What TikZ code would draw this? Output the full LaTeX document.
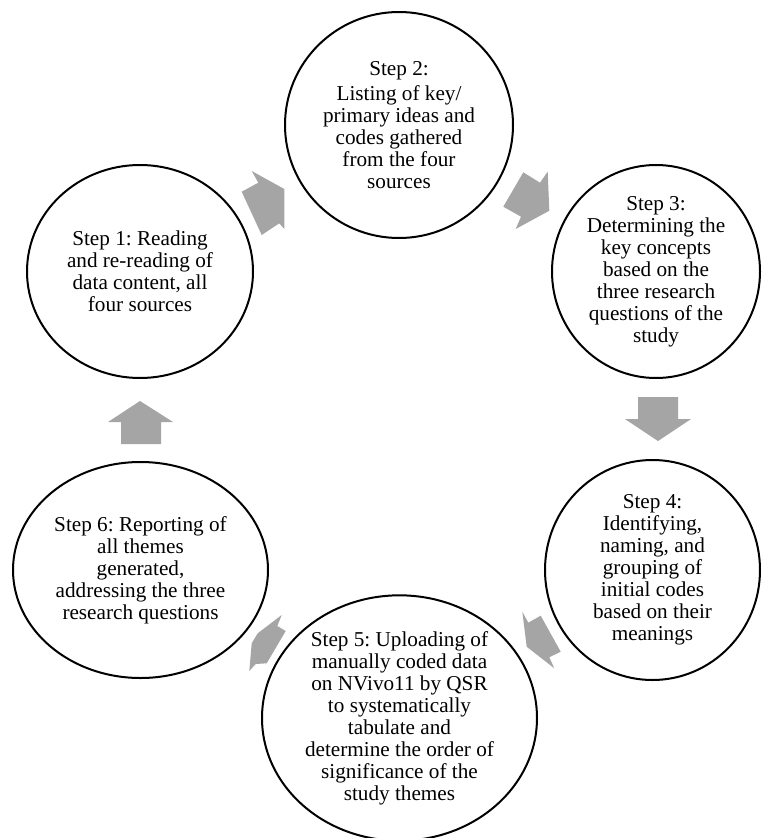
\documentclass[tikz,border=0pt]{standalone}
\usepackage{fontspec}
\setmainfont{Liberation Serif}
\usetikzlibrary{shapes.geometric}
\definecolor{arrowgray}{HTML}{A5A5A5}
\tikzset{
  stepcircle/.style={ellipse, draw=black, line width=2pt, inner sep=0pt, align=center,
    font=\fontsize{21.2}{22}\selectfont\frenchspacing},
  blockarrow/.style={fill=arrowgray, draw=none}
}
\begin{document}
\begin{tikzpicture}[x=1pt,y=-1pt]
\useasboundingbox (0,0) rectangle (761,838);
\fill[white] (0,0) rectangle (761,838);

\node[stepcircle, minimum width=226pt, minimum height=213pt] (s1) at (140,271.5)
  {Step 1: Reading\\and re-reading of\\data content, all\\four sources};
\node[stepcircle, minimum width=228pt, minimum height=226pt] (s2) at (399,125)
  {Step 2:\\[3pt]Listing of key/\\primary ideas and\\codes gathered\\from the four\\sources};
\node[stepcircle, minimum width=208pt, minimum height=213pt] (s3) at (656,271.5)
  {Step 3:\\Determining the\\key concepts\\based on the\\three research\\questions of the\\study};
\node[stepcircle, minimum width=215pt, minimum height=220pt] (s4) at (652.5,570)
  {Step 4:\\Identifying,\\naming, and\\grouping of\\initial codes\\based on their\\meanings};
\node[stepcircle, minimum width=275pt, minimum height=236pt] (s5) at (399.5,718)
  {Step 5: Uploading of\\manually coded data\\on NVivo11 by QSR\\to systematically\\tabulate and\\determine the order of\\significance of the\\study themes};
\node[stepcircle, minimum width=255pt, minimum height=216pt] (s6) at (140.5,570)
  {Step 6: Reporting of\\all themes\\generated,\\addressing the three\\research questions};

% arrow 1 -> 2
\fill[blockarrow] (241.7,191.7) -- (258.3,182.7) -- (251.7,171) -- (284.3,189) -- (284.3,229) -- (279.3,223.3) -- (261.7,235) -- cycle;
% arrow 2 -> 3
\fill[blockarrow] (523.3,172.3) -- (540,182.7) -- (547.7,171.7) -- (549.3,210.7) -- (515.7,229) -- (521,216.7) -- (503.3,206.7) -- cycle;
% arrow 3 -> 4
\fill[blockarrow] (638,397) -- (678,397) -- (678,419) -- (691,419) -- (658,441) -- (625,419) -- (638,419) -- cycle;
% arrow 4 -> 5
\fill[blockarrow] (522.3,611.7) -- (528.3,622.7) -- (540.7,615.7) -- (560.7,651.7) -- (549.3,657.3) -- (554.3,668.3) -- (526.7,646.7) -- cycle;
% arrow 5 -> 6
\fill[blockarrow] (281.7,615) -- (277.3,626) -- (285.7,631) -- (266.7,663.3) -- (255.7,664) -- (249.3,671) -- (251.7,643.3) -- (257.7,633.3) -- cycle;
% arrow 6 -> 1
\fill[blockarrow] (121,444) -- (161,444) -- (161,422) -- (173,422) -- (140,401) -- (108,422) -- (121,422) -- cycle;
\end{tikzpicture}
\end{document}
